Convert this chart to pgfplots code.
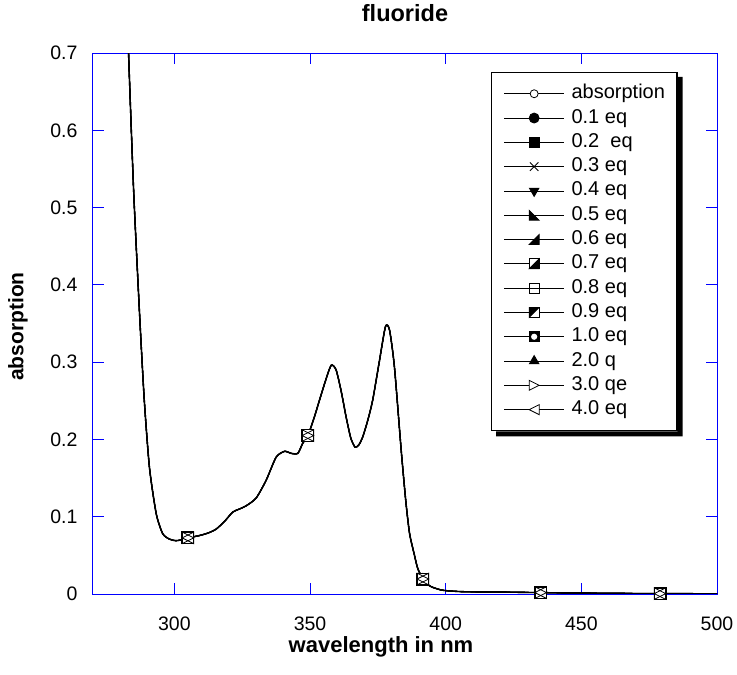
\documentclass[border=0pt]{standalone}
\usepackage{pgfplots}
\pgfplotsset{compat=1.18}
\usepackage{pgfplotstable}
\usepackage{fontspec}
\setmainfont{Liberation Sans}

% custom marks
\pgfdeclareplotmark{triLL}{% lower-left right triangle
  \pgfpathmoveto{\pgfqpoint{-\pgfplotmarksize}{\pgfplotmarksize}}%
  \pgfpathlineto{\pgfqpoint{-\pgfplotmarksize}{-\pgfplotmarksize}}%
  \pgfpathlineto{\pgfqpoint{\pgfplotmarksize}{-\pgfplotmarksize}}%
  \pgfpathclose
  \pgfusepathqfillstroke}
\pgfdeclareplotmark{triLR}{% lower-right right triangle
  \pgfpathmoveto{\pgfqpoint{\pgfplotmarksize}{\pgfplotmarksize}}%
  \pgfpathlineto{\pgfqpoint{-\pgfplotmarksize}{-\pgfplotmarksize}}%
  \pgfpathlineto{\pgfqpoint{\pgfplotmarksize}{-\pgfplotmarksize}}%
  \pgfpathclose
  \pgfusepathqfillstroke}
\pgfdeclareplotmark{sqBR}{%
  \pgfpathrectangle{\pgfqpoint{-\pgfplotmarksize}{-\pgfplotmarksize}}{\pgfqpoint{2\pgfplotmarksize}{2\pgfplotmarksize}}%
  \pgfsetfillcolor{white}\pgfusepathqfillstroke
  \pgfpathmoveto{\pgfqpoint{-\pgfplotmarksize}{-\pgfplotmarksize}}%
  \pgfpathlineto{\pgfqpoint{\pgfplotmarksize}{-\pgfplotmarksize}}%
  \pgfpathlineto{\pgfqpoint{\pgfplotmarksize}{\pgfplotmarksize}}%
  \pgfpathclose
  \pgfsetfillcolor{black}\pgfusepathqfillstroke}
\pgfdeclareplotmark{sqTL}{%
  \pgfpathrectangle{\pgfqpoint{-\pgfplotmarksize}{-\pgfplotmarksize}}{\pgfqpoint{2\pgfplotmarksize}{2\pgfplotmarksize}}%
  \pgfsetfillcolor{white}\pgfusepathqfillstroke
  \pgfpathmoveto{\pgfqpoint{-\pgfplotmarksize}{-\pgfplotmarksize}}%
  \pgfpathlineto{\pgfqpoint{-\pgfplotmarksize}{\pgfplotmarksize}}%
  \pgfpathlineto{\pgfqpoint{\pgfplotmarksize}{\pgfplotmarksize}}%
  \pgfpathclose
  \pgfsetfillcolor{black}\pgfusepathqfillstroke}
\pgfdeclareplotmark{sqO}{%
  \pgfpathrectangle{\pgfqpoint{-\pgfplotmarksize}{-\pgfplotmarksize}}{\pgfqpoint{2\pgfplotmarksize}{2\pgfplotmarksize}}%
  \pgfsetfillcolor{black}\pgfusepathqfillstroke
  \pgfpathcircle{\pgfpointorigin}{0.62\pgfplotmarksize}%
  \pgfsetfillcolor{white}\pgfusepathqfill}
\pgfdeclareplotmark{triRw}{%
  \pgfpathmoveto{\pgfqpoint{-\pgfplotmarksize}{\pgfplotmarksize}}%
  \pgfpathlineto{\pgfqpoint{-\pgfplotmarksize}{-\pgfplotmarksize}}%
  \pgfpathlineto{\pgfqpoint{\pgfplotmarksize}{0pt}}%
  \pgfpathclose
  \pgfsetfillcolor{white}\pgfusepathqfillstroke}
\pgfdeclareplotmark{triLw}{%
  \pgfpathmoveto{\pgfqpoint{\pgfplotmarksize}{\pgfplotmarksize}}%
  \pgfpathlineto{\pgfqpoint{\pgfplotmarksize}{-\pgfplotmarksize}}%
  \pgfpathlineto{\pgfqpoint{-\pgfplotmarksize}{0pt}}%
  \pgfpathclose
  \pgfsetfillcolor{white}\pgfusepathqfillstroke}
\pgfdeclareplotmark{triRo}{%
  \pgfpathmoveto{\pgfqpoint{-\pgfplotmarksize}{\pgfplotmarksize}}%
  \pgfpathlineto{\pgfqpoint{-\pgfplotmarksize}{-\pgfplotmarksize}}%
  \pgfpathlineto{\pgfqpoint{\pgfplotmarksize}{0pt}}%
  \pgfpathclose
  \pgfusepathqstroke}
\pgfdeclareplotmark{triLo}{%
  \pgfpathmoveto{\pgfqpoint{\pgfplotmarksize}{\pgfplotmarksize}}%
  \pgfpathlineto{\pgfqpoint{\pgfplotmarksize}{-\pgfplotmarksize}}%
  \pgfpathlineto{\pgfqpoint{-\pgfplotmarksize}{0pt}}%
  \pgfpathclose
  \pgfusepathqstroke}

\pgfplotstableread{
x y
282.6 0.760
283.1 0.700
285.0 0.520
287.2 0.360
288.9 0.251
290.8 0.164
293.3 0.104
295.7 0.078
298.2 0.071
300.5 0.069
302.5 0.070
305.0 0.0726
309.2 0.0756
312.5 0.079
315.4 0.084
318.5 0.094
321.5 0.106
324.0 0.110
326.4 0.114
330.1 0.124
333.8 0.147
337.5 0.177
340.6 0.1846
343.0 0.182
345.5 0.182
347.3 0.195
349.2 0.205
351.5 0.228
353.5 0.251
355.8 0.277
357.8 0.296
359.6 0.290
361.5 0.262
363.3 0.229
365.0 0.202
366.6 0.190
368.0 0.193
369.4 0.203
371.3 0.225
373.1 0.251
375.5 0.300
377.8 0.346
379.3 0.3415
381.1 0.294
383.6 0.186
385.3 0.120
386.7 0.078
388.5 0.050
389.7 0.033
391.6 0.0194
393.5 0.012
395.2 0.0086
398.0 0.0055
400.2 0.0043
406.3 0.0030
420.0 0.0025
435.0 0.0018
450.0 0.0012
465.0 0.0008
479.0 0.0005
490.0 0.0004
500.0 0.0003
}\curve

\pgfplotsset{
  mk/.style={black, line width=0.8bp, mark options={solid, line width=0.8bp, black}},
  s1/.style={mk, mark=*, mark size=4bp, mark options={fill=white}},
  s2/.style={mk, mark=*, mark size=5bp},
  s3/.style={mk, mark=square*, mark size=5bp},
  s4/.style={mk, mark=x, mark size=6bp},
  s5/.style={mk, mark=triangle*, mark size=5.5bp, mark options={rotate=180}},
  s6/.style={mk, mark=triLL, mark size=5bp},
  s7/.style={mk, mark=triLR, mark size=5bp},
  s8/.style={mk, mark=sqBR, mark size=5bp},
  s9/.style={mk, mark=square, mark size=5bp},
  s10/.style={mk, mark=sqTL, mark size=5bp},
  s11/.style={mk, mark=sqO, mark size=5bp},
  s12/.style={mk, mark=triangle*, mark size=5.5bp},
  s13/.style={mk, mark=triRw, mark size=5bp},
  s14/.style={mk, mark=triLw, mark size=5bp},
  crv/.style={forget plot, black, line width=1.4bp, mark=none, smooth, tension=0.4},
  mi/.style={mark indices={11,26,49,56,59}},
}

\begin{document}
\begin{tikzpicture}
\begin{axis}[
  scale only axis,
  width=624bp, height=541bp,
  xmin=270, xmax=500, ymin=0, ymax=0.7,
  xtick={300,350,400,450,500},
  ytick={0,0.1,0.2,0.3,0.4,0.5,0.6,0.7},
  yticklabels={0,0.1,0.2,0.3,0.4,0.5,0.6,0.7},
  tick align=inside,
  major tick length=11bp,
  minor tick num=0,
  axis line style={blue, line width=1bp},
  every tick/.style={blue, line width=0.9bp},
  /pgf/number format/assume math mode=true,
  tick label style={font=\fontsize{19.5bp}{23bp}\selectfont, black},
  xticklabel style={anchor=base, yshift=-36bp},
  yticklabel style={anchor=east, xshift=-12bp},
  title={fluoride},
  title style={font=\bfseries\fontsize{23.5bp}{27bp}\selectfont, at={(0.5,1)}, anchor=base, yshift=26bp},
  xlabel={wavelength in nm},
  ylabel={absorption},
  every axis x label/.style={at={(axis description cs:0.5,0)}, anchor=base, yshift=-58bp, xshift=-24bp, font=\bfseries\fontsize{22bp}{26bp}\selectfont},
  every axis y label/.style={at={(axis description cs:0,0.5)}, anchor=center, rotate=90, yshift=75bp, xshift=-3bp, font=\bfseries\fontsize{21bp}{25bp}\selectfont},
  clip mode=individual,
  legend image code/.code={\draw[mark repeat=2,mark phase=2,#1] plot coordinates {(0bp,0bp) (30bp,0bp) (60bp,0bp)};},
  legend cell align=left,
  legend style={
    name=leg,
    at={(0.638,0.965)}, anchor=north west,
    draw=black, line width=1.3bp, fill=white,
    font=\fontsize{20bp}{24bp}\selectfont,
    inner xsep=12bp, inner ysep=9bp,
    row sep=0pt, column sep=7bp,
    nodes={inner xsep=0bp, inner ysep=2.65bp, text height=14.5bp, text depth=4.5bp, line width=0.8bp},
  },
]
\addplot[crv] table {\curve};
\addplot[crv, s1, mi] table {\curve};
\addplot[crv, s2, mi] table {\curve};
\addplot[crv, s3, mi] table {\curve};
\addplot[crv, s5, mi] table {\curve};
\addplot[crv, s11, mi] table {\curve};
\addplot[crv, s12, mi] table {\curve};
% top marks: open square with bow-tie of the 3.0 / 4.0 eq triangles
\addplot[crv, mk, line width=1.4bp, mark=square*, mark size=5.8bp, mark options={fill=white}, mi] table {\curve};
\addplot[crv, mk, draw=none, mark=triRo, mark size=5.8bp, mi] table {\curve};
\addplot[crv, mk, draw=none, mark=triLo, mark size=5.8bp, mi] table {\curve};

\addlegendimage{s1}\addlegendentry{absorption}
\addlegendimage{s2}\addlegendentry{0.1 eq}
\addlegendimage{s3}\addlegendentry{0.2\ \ eq}
\addlegendimage{s4}\addlegendentry{0.3 eq}
\addlegendimage{s5}\addlegendentry{0.4 eq}
\addlegendimage{s6}\addlegendentry{0.5 eq}
\addlegendimage{s7}\addlegendentry{0.6 eq}
\addlegendimage{s8}\addlegendentry{0.7 eq}
\addlegendimage{s9}\addlegendentry{0.8 eq}
\addlegendimage{s10}\addlegendentry{0.9 eq}
\addlegendimage{s11}\addlegendentry{1.0 eq}
\addlegendimage{s12}\addlegendentry{2.0 q}
\addlegendimage{s13}\addlegendentry{3.0 qe}
\addlegendimage{s14}\addlegendentry{4.0 eq}
\coordinate (sw) at (rel axis cs:0,0);
\end{axis}
\fill[black] ([yshift=-5bp]leg.north east) -- ++(5bp,0) |- ([xshift=5bp,yshift=-5bp]leg.south west) -- ([xshift=5bp]leg.south west) -- (leg.south east) -- cycle;
\path (sw) ++(-93bp,-81bp) rectangle ++(737bp,675bp);
\end{tikzpicture}
\end{document}
